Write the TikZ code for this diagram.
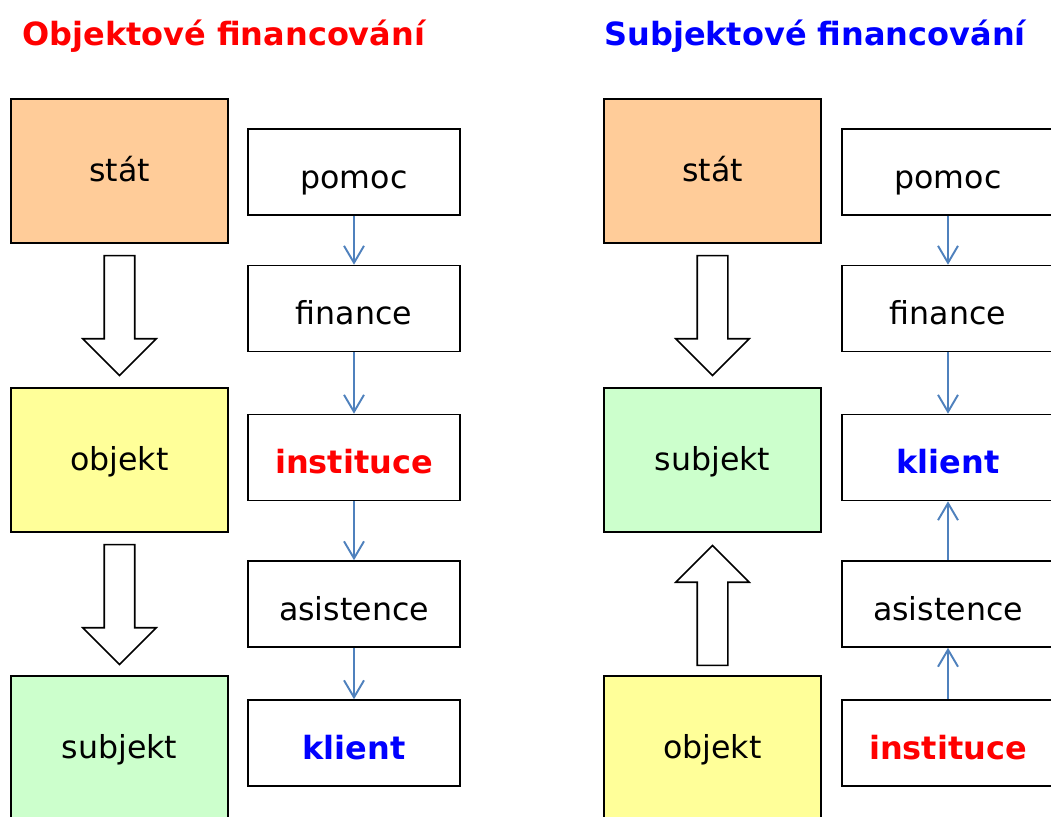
\documentclass[tikz,border=0pt]{standalone}
\usepackage{fontspec}
\setmainfont{DejaVu Sans}
\usetikzlibrary{shapes.arrows, arrows.meta, positioning, calc}
\definecolor{peach}{HTML}{FFCC99}
\definecolor{paleyellow}{HTML}{FFFF99}
\definecolor{palegreen}{HTML}{CCFFCC}
\definecolor{flowblue}{HTML}{4F81BD}
\tikzset{
  bigbox/.style={rectangle, draw=black, line width=0.9pt,
                 minimum width=4.34cm, minimum height=2.88cm, inner sep=0pt,
                 text height=0.6cm, text depth=0.2cm,
                 font=\fontsize{18}{22}\selectfont},
  smallbox/.style={rectangle, draw=black, fill=white, line width=0.9pt,
                   minimum width=4.24cm, minimum height=1.72cm, inner sep=0pt,
                   text height=0.74cm, text depth=0.1cm,
                   font=\fontsize{18}{22}\selectfont},
  keyword/.style={font=\fontsize{18.2}{22}\selectfont\bfseries},
  bigarrow/.style={single arrow, draw=black, fill=white, line width=0.9pt,
                   minimum height=2.4cm, minimum width=1.44cm,
                   inner xsep=0pt, inner ysep=0.29cm, anchor=tail,
                   single arrow head extend=0.43cm, single arrow tip angle=90},
  flow/.style={-{Straight Barb[length=0.34cm, width=0.4cm]}, draw=flowblue, line width=1.1pt},
  title/.style={anchor=west, inner sep=0pt, font=\fontsize{18.2}{22}\selectfont\bfseries},
}

\begin{document}
\begin{tikzpicture}[x=0.02cm, y=-0.02cm]
  \useasboundingbox (0,0) rectangle (1051,816);
  \clip (0,0) rectangle (1051,816);

  % Objektove financovani
  \node[title, text=red] (titleL) at (22,36) {Objektové financování};
  \node[bigbox, fill=peach] (statL) at (119.5,171) {stát};
  \node[bigbox, fill=paleyellow] (objektL) at (119.5,460) {objekt};
  \node[bigbox, fill=palegreen] (subjektL) at (119.5,748) {subjekt};
  \node[bigarrow, rotate=-90] (downL1) at ([yshift=-0.22cm]statL.south) {};
  \node[bigarrow, rotate=-90] (downL2) at ([yshift=-0.22cm]objektL.south) {};

  \node[smallbox] (pomocL) at (354,172) {pomoc};
  \node[smallbox] (financeL) at (354,308.5) {finance};
  \node[smallbox, keyword, text=red] (instituceL) at (354,457.5) {instituce};
  \node[smallbox] (asistenceL) at (354,604) {asistence};
  \node[smallbox, keyword, text=blue] (klientL) at (354,743) {klient};

  \draw[flow] (pomocL) -- (financeL);
  \draw[flow] (financeL) -- (instituceL);
  \draw[flow] (instituceL) -- (asistenceL);
  \draw[flow] (asistenceL) -- (klientL);

  % Subjektove financovani
  \node[title, text=blue] (titleR) at (604,36) {Subjektové financování};
  \node[bigbox, fill=peach] (statR) at (712.5,171) {stát};
  \node[bigbox, fill=palegreen] (subjektR) at (712.5,460) {subjekt};
  \node[bigbox, fill=paleyellow] (objektR) at (712.5,748) {objekt};
  \node[bigarrow, rotate=-90] (downR) at ([yshift=-0.22cm]statR.south) {};
  \node[bigarrow, rotate=90] (upR) at ([yshift=0.18cm]objektR.north) {};

  \node[smallbox] (pomocR) at (948,172) {pomoc};
  \node[smallbox] (financeR) at (948,308.5) {finance};
  \node[smallbox, keyword, text=blue] (klientR) at (948,457.5) {klient};
  \node[smallbox] (asistenceR) at (948,604) {asistence};
  \node[smallbox, keyword, text=red] (instituceR) at (948,743) {instituce};

  \draw[flow] (pomocR) -- (financeR);
  \draw[flow] (financeR) -- (klientR);
  \draw[flow] (instituceR) -- (asistenceR);
  \draw[flow] (asistenceR) -- (klientR);
\end{tikzpicture}
\end{document}
